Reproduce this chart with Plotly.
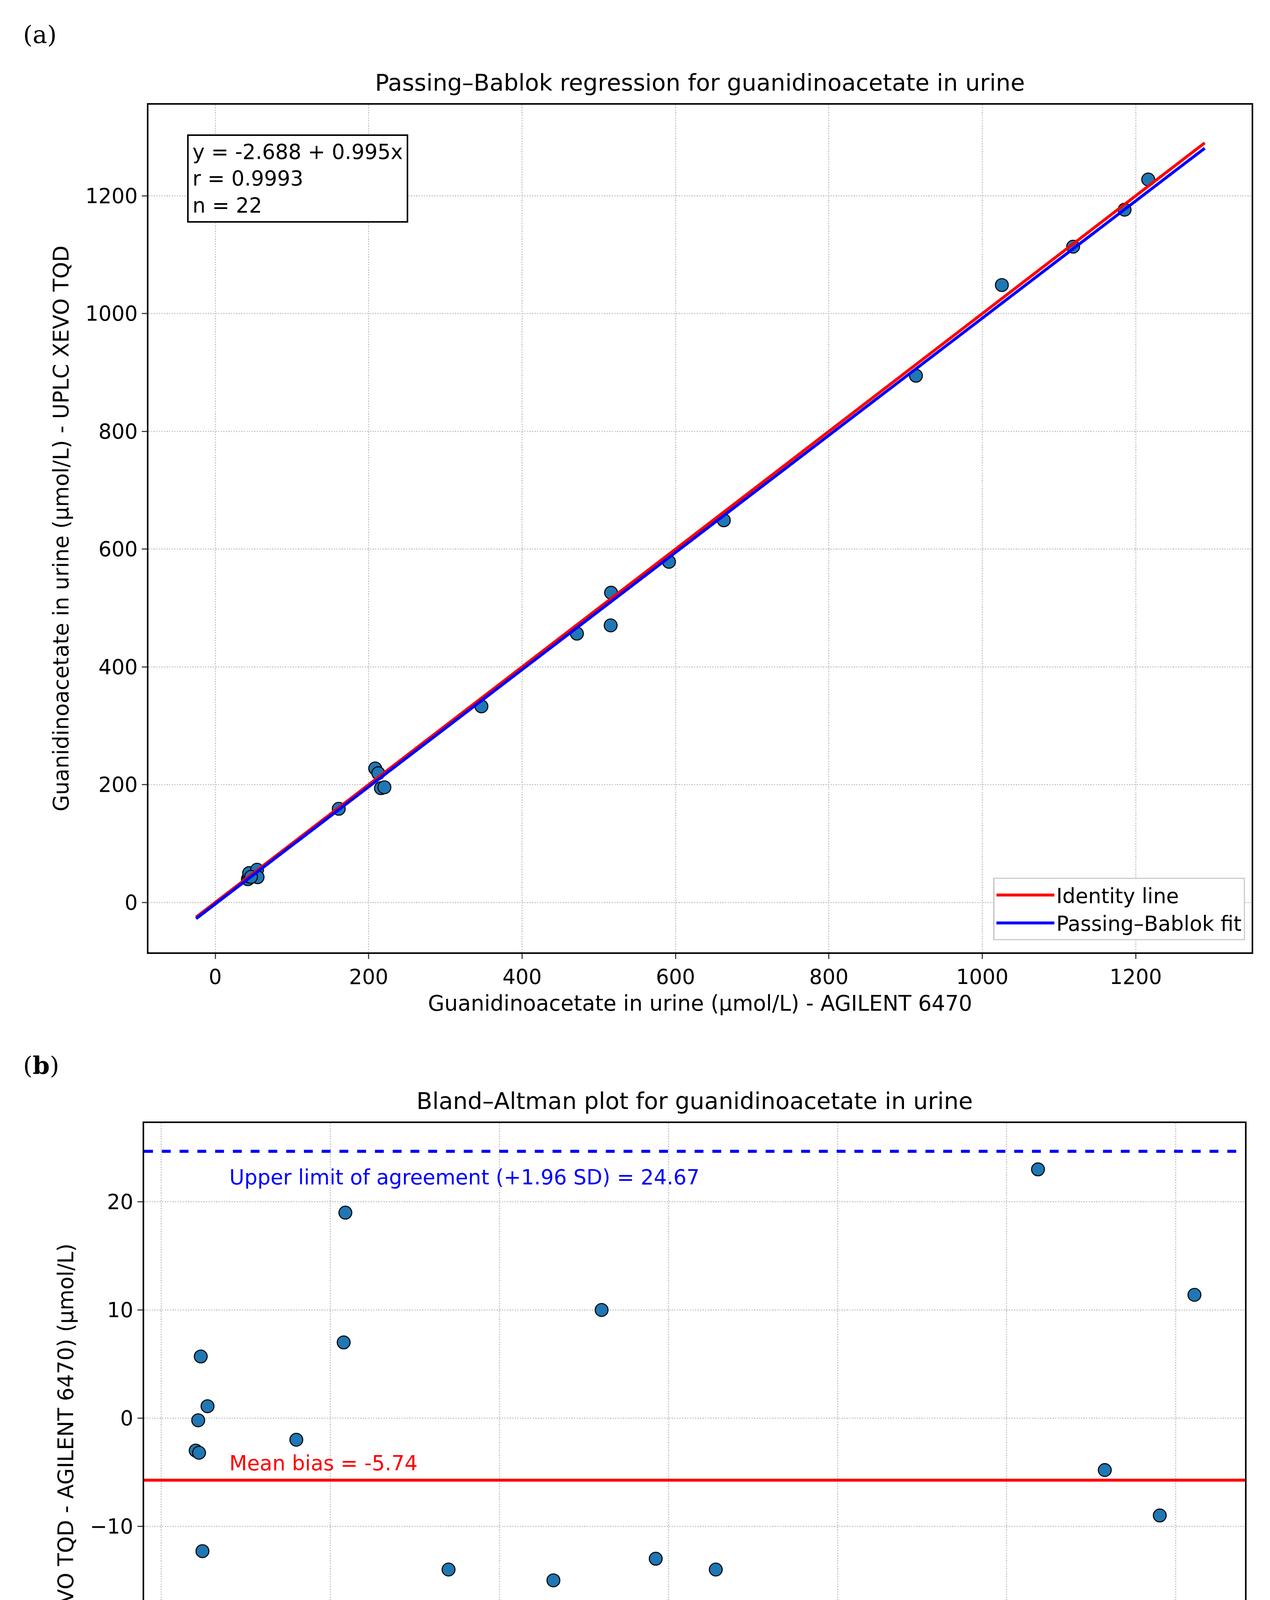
import plotly.graph_objects as go

mean_vals = [41, 44, 47, 55, 49, 45, 160, 218, 216, 205, 208, 340, 464, 493, 521, 585, 656, 904, 1037, 1116, 1181, 1222]
diff_vals = [-3, -0.2, 5.7, 1.1, -12.3, -3.2, -2, 19, 7, -22, -25, -14, -15, -45, 10, -13, -14, -19, 23, -4.8, -9, 11.4]
x_agilent = [m - d / 2 for m, d in zip(mean_vals, diff_vals)]
y_xevo = [m + d / 2 for m, d in zip(mean_vals, diff_vals)]
line_x = [-25, 1290]
intercept, slope = -2.688, 0.995
bias, upper, lower = -5.74, 24.67, -36.14

S = 3.294
F = "DejaVu Sans"
fig = go.Figure()
mk = dict(size=10*S, color="#1f77b4", line=dict(color="black", width=0.8*S))

fig.add_trace(go.Scatter(x=x_agilent, y=y_xevo, mode="markers", marker=mk, showlegend=False, xaxis="x", yaxis="y"))
fig.add_trace(go.Scatter(x=line_x, y=line_x, mode="lines", line=dict(color="red", width=2.3*S), name="Identity line", xaxis="x", yaxis="y"))
fig.add_trace(go.Scatter(x=line_x, y=[intercept + slope*v for v in line_x], mode="lines", line=dict(color="blue", width=2.3*S), name="Passing–Bablok fit", xaxis="x", yaxis="y"))
fig.add_trace(go.Scatter(x=mean_vals, y=diff_vals, mode="markers", marker=mk, showlegend=False, xaxis="x2", yaxis="y2"))

ax = dict(showline=True, mirror=True, linecolor="black", linewidth=1.2*S, ticks="outside", ticklen=4*S, tickwidth=1*S,
          tickfont=dict(size=16*S, family=F, color="black"), showgrid=True, gridcolor="#c8c8c8", griddash="dot", gridwidth=1*S, zeroline=False)
tf = dict(size=16.5*S, family=F, color="black")
fig.update_layout(
    width=3251, height=5193, margin=dict(l=0, r=0, t=0, b=0), plot_bgcolor="white", paper_bgcolor="white",
    font=dict(family=F),
    xaxis=dict(ax, domain=[0.1145, 0.983], range=[-87, 1351], dtick=200, anchor="y",
               title=dict(text="Guanidinoacetate in urine (µmol/L) - AGILENT 6470", font=tf, standoff=6*S)),
    yaxis=dict(ax, domain=[0.532, 0.950], range=[-85, 1355], dtick=200, anchor="x",
               title=dict(text="Guanidinoacetate in urine (µmol/L) - UPLC XEVO TQD", font=tf, standoff=8*S)),
    xaxis2=dict(ax, domain=[0.111, 0.978], range=[-20, 1282], dtick=200, anchor="y2",
                title=dict(text="Mean guanidinoacetate in urine (µmol/L)", font=tf, standoff=2*S)),
    yaxis2=dict(ax, domain=[0.046, 0.448], range=[-48.1, 27.3], dtick=10, anchor="x2",
                title=dict(text="Difference (UPLC XEVO TQD - AGILENT 6470) (µmol/L)", font=tf, standoff=8*S)),
    legend=dict(x=0.978, y=0.538, xref="paper", xanchor="right", yanchor="bottom", bgcolor="white",
                bordercolor="#cccccc", borderwidth=1*S, itemwidth=45*S, tracegroupgap=0,
                font=dict(size=16*S, family=F, color="black")),
)

for y0, col, dash in [(upper, "blue", "dash"), (bias, "red", "solid"), (lower, "blue", "dash")]:
    fig.add_shape(type="line", xref="x2 domain", yref="y2", x0=0, x1=1, y0=y0, y1=y0, line=dict(color=col, width=2.3*S, dash=dash))

def ann(**k):
    fig.add_annotation(showarrow=False, **k)

ann(x=80, y=upper - 1.2, xref="x2", yref="y2", xanchor="left", yanchor="top", text=f"Upper limit of agreement (+1.96 SD) = {upper:.2f}", font=dict(size=16*S, family=F, color="blue"))
ann(x=80, y=bias + 0.4, xref="x2", yref="y2", xanchor="left", yanchor="bottom", text=f"Mean bias = {bias:.2f}", font=dict(size=16*S, family=F, color="red"))
ann(x=80, y=lower + 0.4, xref="x2", yref="y2", xanchor="left", yanchor="bottom", text=f"Lower limit of agreement (-1.96 SD) = {lower:.2f}", font=dict(size=16*S, family=F, color="blue"))
ann(x=0.97, y=0.04, xref="x2 domain", yref="y2 domain", xanchor="right", yanchor="bottom", text=f"n = {len(mean_vals)}", font=dict(size=16*S, family=F, color="black"))
ann(x=0.035, y=0.965, xref="x domain", yref="y domain", xanchor="left", yanchor="top", align="left",
    text=f"y = {intercept} + {slope}x<br>r = 0.9993<br>n = {len(mean_vals)}", font=dict(size=16*S, family=F, color="black"),
    bordercolor="black", borderwidth=1.2*S, borderpad=3*S, bgcolor="white")
ann(x=0.5, y=0.950, xref="x domain", yref="paper", yanchor="bottom", yshift=6*S, text="Passing–Bablok regression for guanidinoacetate in urine", font=dict(size=18*S, family=F, color="black"))
ann(x=0.5, y=0.448, xref="x2 domain", yref="paper", yanchor="bottom", yshift=6*S, text="Bland–Altman plot for guanidinoacetate in urine", font=dict(size=18*S, family=F, color="black"))
ann(x=0.015, y=0.992, xref="paper", yref="paper", xanchor="left", yanchor="top", text="(a)", font=dict(size=19*S, family="DejaVu Serif", color="black"))
ann(x=0.015, y=0.484, xref="paper", yref="paper", xanchor="left", yanchor="top", text="(<b>b</b>)", font=dict(size=19*S, family="DejaVu Serif", color="black"))

fig.write_html("out.html")
